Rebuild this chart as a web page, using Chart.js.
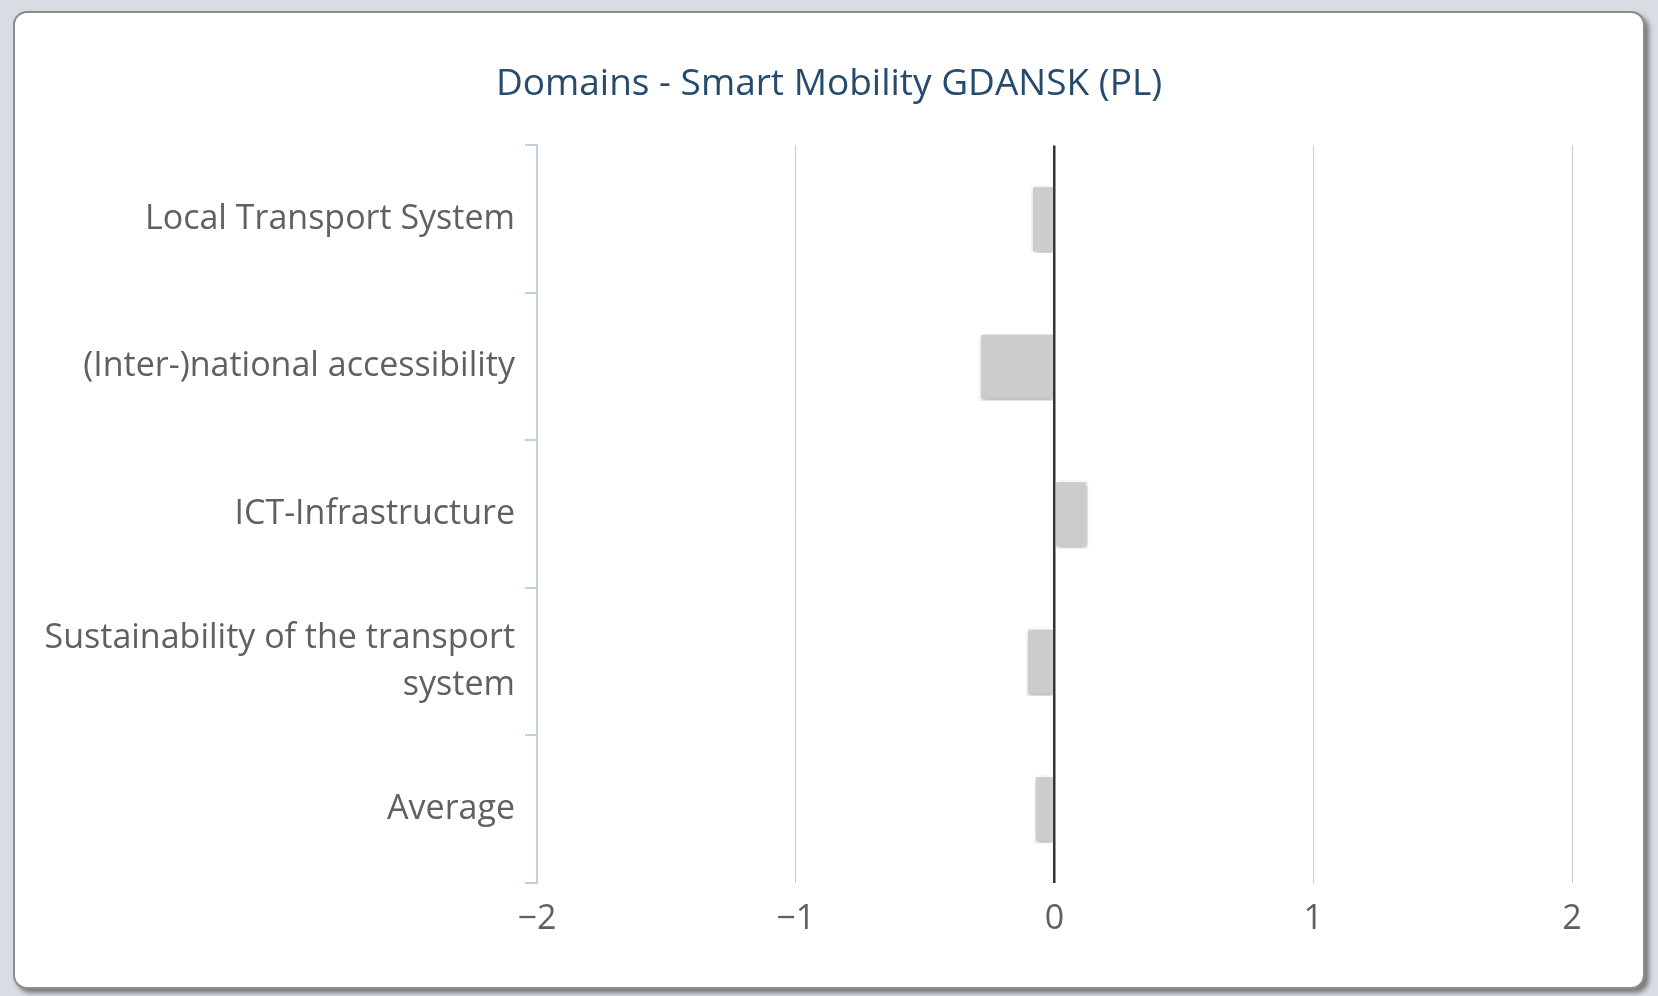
<!DOCTYPE html>
<html>
<head>
<meta charset="utf-8">
<script src="https://cdn.jsdelivr.net/npm/chart.js@4"></script>
<style>
  html, body { margin: 0; padding: 0; }
  body { background: #d9dce3; width: 1658px; height: 996px; overflow: hidden; }
  #card {
    position: absolute; left: 13px; top: 11px;
    width: 1628px; height: 974px;
    background: #fff;
    border: 2px solid #8c8c8c;
    border-radius: 14px;
    box-shadow: 4px 4px 5px rgba(0,0,0,0.45);
  }
  #wrap { position: relative; width: 1628px; height: 974px; }
</style>
</head>
<body>
<div id="card"><div id="wrap"><canvas id="myChart"></canvas></div></div>
<script>
const domains = [
  "Local Transport System",
  "(Inter-)national accessibility",
  "ICT-Infrastructure",
  ["Sustainability of the transport", "system"],
  "Average"
];
const scores = [-0.09, -0.29, 0.13, -0.11, -0.08];
const xMin = -2;
const xMax = 2;

const labelFont = { family: "'Open Sans', 'Noto Sans', sans-serif", size: 34, lineHeight: 1.4 };

// soft shadow under the bars, like the original
const barShadow = {
  id: "barShadow",
  beforeDatasetsDraw(chart) {
    const ctx = chart.ctx;
    ctx.save();
    ctx.shadowColor = "rgba(0,0,0,0.35)";
    ctx.shadowBlur = 5;
    ctx.shadowOffsetX = 1;
    ctx.shadowOffsetY = 2;
  },
  afterDatasetsDraw(chart) {
    chart.ctx.restore();
  }
};

const myChart = new Chart(document.getElementById("myChart"), {
  type: "bar",
  data: {
    labels: domains,
    datasets: [{
      label: "Smart Mobility",
      data: scores,
      backgroundColor: "#cccccc",
      borderColor: "#ffffff",
      borderWidth: 2,
      barPercentage: 0.46,
      categoryPercentage: 1
    }]
  },
  plugins: [barShadow],
  options: {
    indexAxis: "y",
    responsive: true,
    maintainAspectRatio: false,
    animation: false,
    plugins: {
      legend: { display: false },
      tooltip: { enabled: false },
      title: {
        display: true,
        text: "Domains - Smart Mobility GDANSK (PL)",
        color: "#274b6d",
        font: { family: "'Open Sans', 'Noto Sans', sans-serif", size: 37, weight: "normal" },
        padding: { top: 49, bottom: 39 }
      }
    },
    scales: {
      x: {
        min: xMin,
        max: xMax,
        z: 1,
        border: { display: false },
        grid: {
          drawTicks: false,
          color: (c) => c.tick.value === 0 ? "#333333" : (c.tick.value === xMin ? "rgba(0,0,0,0)" : "#cccccc"),
          lineWidth: (c) => c.tick.value === 0 ? 2.5 : 1
        },
        ticks: {
          stepSize: 1,
          padding: 13,
          color: "#606060",
          font: labelFont,
          callback: (v) => v < 0 ? "\u2212" + Math.abs(v) : String(v)
        },
        afterFit(scale) { scale.height = 104; }
      },
      y: {
        border: { display: true, color: "#c0d0e0", width: 2 },
        grid: {
          drawOnChartArea: false,
          drawTicks: true,
          tickLength: 12,
          color: "#c0d0e0",
          lineWidth: 2
        },
        ticks: {
          padding: 10,
          color: "#606060",
          font: labelFont
        },
        afterFit(scale) { scale.width = 522; }
      },
      // empty right-hand axis: keeps the plot clear of the right edge
      // while the title stays centred on the whole card
      yRight: {
        type: "category",
        position: "right",
        display: true,
        border: { display: false },
        grid: { display: false },
        ticks: { display: false },
        afterFit(scale) { scale.width = 71; }
      }
    }
  }
});
</script>
</body>
</html>
